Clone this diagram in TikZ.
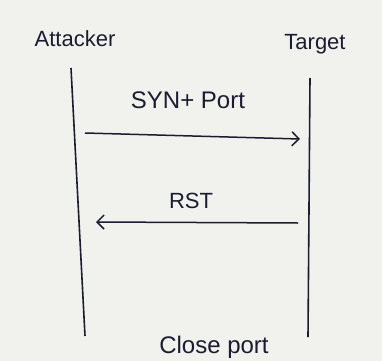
\documentclass[tikz,border=0pt]{standalone}
\usepackage{fontspec}
\setmainfont{Liberation Sans}
\usetikzlibrary{arrows.meta}
\definecolor{ink}{HTML}{1C1C30}
\definecolor{paper}{HTML}{F1F1EE}
\begin{document}
\begin{tikzpicture}[x=1pt,y=-1pt,
  lifeline/.style={draw=ink,line width=1.6pt},
  msg/.style={draw=ink,line width=1.5pt,-{Straight Barb[length=7pt,width=14pt,line width=1.5pt]}},
  lbl/.style={text=ink,font=\fontsize{22}{26}\selectfont,inner sep=0pt}]
\clip (0,0) rectangle (382,361);
\fill[paper] (0,0) rectangle (382,361);
\node[lbl] (att) at (75,39) {Attacker};
\node[lbl] (tgt) at (315,44) {Target};
\coordinate (a1) at (71,68);
\coordinate (a2) at (85,336);
\coordinate (t1) at (310,78);
\coordinate (t2) at (308,337);
\draw[lifeline] (a1) -- (a2);
\draw[lifeline] (t1) -- (t2);
\coordinate (s1) at (85,133);
\coordinate (s2) at (300,139);
\draw[msg] (s1) -- (s2);
\node[lbl,font=\fontsize{24}{28}\selectfont] (syn) at (188,100) {SYN+ Port};
\coordinate (r1) at (298,223);
\coordinate (r2) at (96,222);
\draw[msg] (r1) -- (r2);
\node[lbl] (rst) at (191,201) {RST};
\node[lbl,font=\fontsize{24}{28}\selectfont,anchor=base] (close) at (214,353) {Close port};
\end{tikzpicture}
\end{document}
